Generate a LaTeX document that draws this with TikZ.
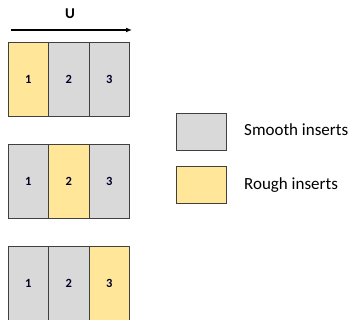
\documentclass[tikz,border=0pt]{standalone}
\usepackage{fontspec}
\setmainfont{Carlito}
\usetikzlibrary{arrows.meta}
\definecolor{smoothfill}{HTML}{D9D9D9}
\definecolor{roughfill}{HTML}{FFE699}
\definecolor{edgegray}{HTML}{404040}
\tikzset{
  cell/.style={draw=edgegray, line width=0.9pt, minimum width=40.5pt, minimum height=74pt, inner sep=0pt, font=\bfseries\fontsize{12.5}{14}\selectfont, text=black!85!blue},
  smooth/.style={cell, fill=smoothfill},
  rough/.style={cell, fill=roughfill},
  legbox/.style={draw=edgegray, line width=0.9pt, minimum width=50pt, minimum height=37pt, inner sep=0pt},
  legtext/.style={anchor=base west, font=\fontsize{17}{19}\selectfont, inner sep=0pt}
}
\begin{document}
\begin{tikzpicture}[x=1pt,y=-1pt]
\useasboundingbox (0,0) rectangle (348,320);
% flow direction
\coordinate (a0) at (11,30);
\coordinate (a1) at (132,30);
\draw[line width=1.2pt, -{Latex[length=6pt,width=5pt]}] (a0) -- (a1);
\node[font=\bfseries\fontsize{15}{16}\selectfont] (U) at (70,14) {U};
% configuration 1
\node[rough]  (r1c1) at (28.25,79) {1};
\node[smooth] (r1c2) at (68.75,79) {2};
\node[smooth] (r1c3) at (109.25,79) {3};
% configuration 2
\node[smooth] (r2c1) at (28.25,181) {1};
\node[rough]  (r2c2) at (68.75,181) {2};
\node[smooth] (r2c3) at (109.25,181) {3};
% configuration 3
\node[smooth] (r3c1) at (28.25,283) {1};
\node[smooth] (r3c2) at (68.75,283) {2};
\node[rough]  (r3c3) at (109.25,283) {3};
% legend
\node[legbox, fill=smoothfill] (ls) at (201,132) {};
\node[legbox, fill=roughfill]  (lr) at (201,185) {};
\node[legtext] (lst) at (244,136) {Smooth inserts};
\node[legtext] (lrt) at (244,190) {Rough inserts};
\end{tikzpicture}
\end{document}
